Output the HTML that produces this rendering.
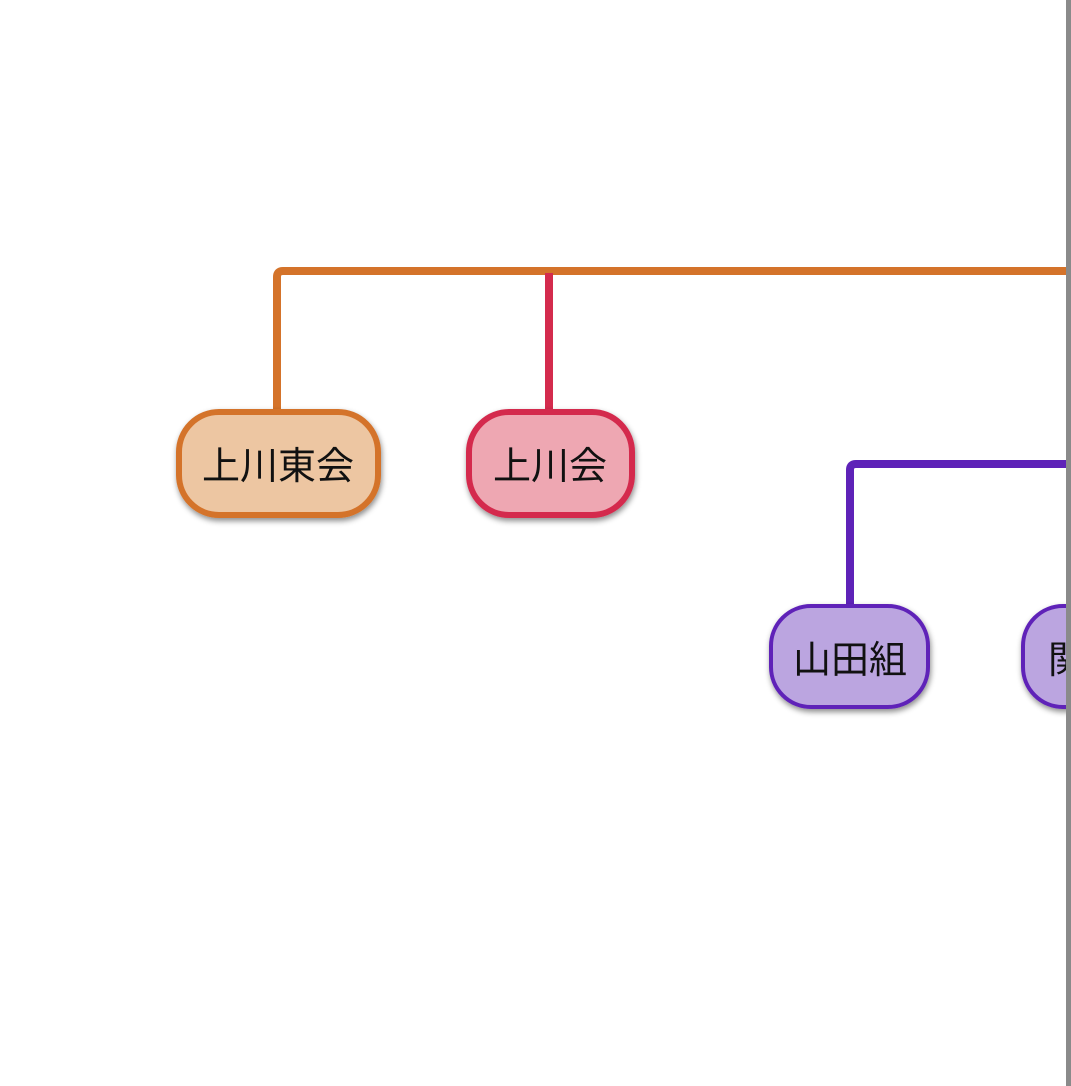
<!DOCTYPE html>
<html><head><meta charset="utf-8"><style>
html,body{margin:0;padding:0;background:#fff;width:1071px;height:1086px;overflow:hidden}
</style></head><body>
<svg width="1071" height="1086" viewBox="0 0 1071 1086" xmlns="http://www.w3.org/2000/svg" style="position:absolute;left:0;top:0">
<defs>
<filter id="sh" x="-20%" y="-20%" width="140%" height="150%">
<feDropShadow dx="1" dy="3" stdDeviation="3" flood-color="#000" flood-opacity="0.45"/>
</filter>
<clipPath id="cp"><rect x="0" y="0" width="1066" height="1086"/></clipPath>
</defs>
<g clip-path="url(#cp)">
<path d="M277,410 V277 Q277,271 283,271 H1070" fill="none" stroke="#d4732a" stroke-width="8"/>
<path d="M549,410 V273" fill="none" stroke="#d42b4d" stroke-width="8"/>
<path d="M850,604 V470 Q850,464 856,464 H1070" fill="none" stroke="#5e22b8" stroke-width="8"/>
<g filter="url(#sh)">
<rect x="179" y="412" width="199" height="103" rx="40" fill="#edc6a2" stroke="#d4732a" stroke-width="6"/>
<rect x="469" y="412" width="163" height="103" rx="40" fill="#eea7b2" stroke="#d42b4d" stroke-width="6"/>
<rect x="771" y="606" width="157" height="101" rx="40" fill="#bba5e0" stroke="#5e22b8" stroke-width="4"/>
<rect x="1023" y="606" width="157" height="101" rx="40" fill="#bba5e0" stroke="#5e22b8" stroke-width="4"/>
</g>
<g font-family="'Liberation Sans','Noto Sans CJK JP',sans-serif" font-size="38" text-anchor="middle" fill="#111">
<text x="278" y="479">上川東会</text>
<text x="550" y="479">上川会</text>
<text x="850" y="673">山田組</text>
<text x="1067" y="673">関</text>
</g>
</g>
<rect x="1066" y="0" width="5" height="1086" fill="#8a8a8a"/>
</svg>
</body></html>
